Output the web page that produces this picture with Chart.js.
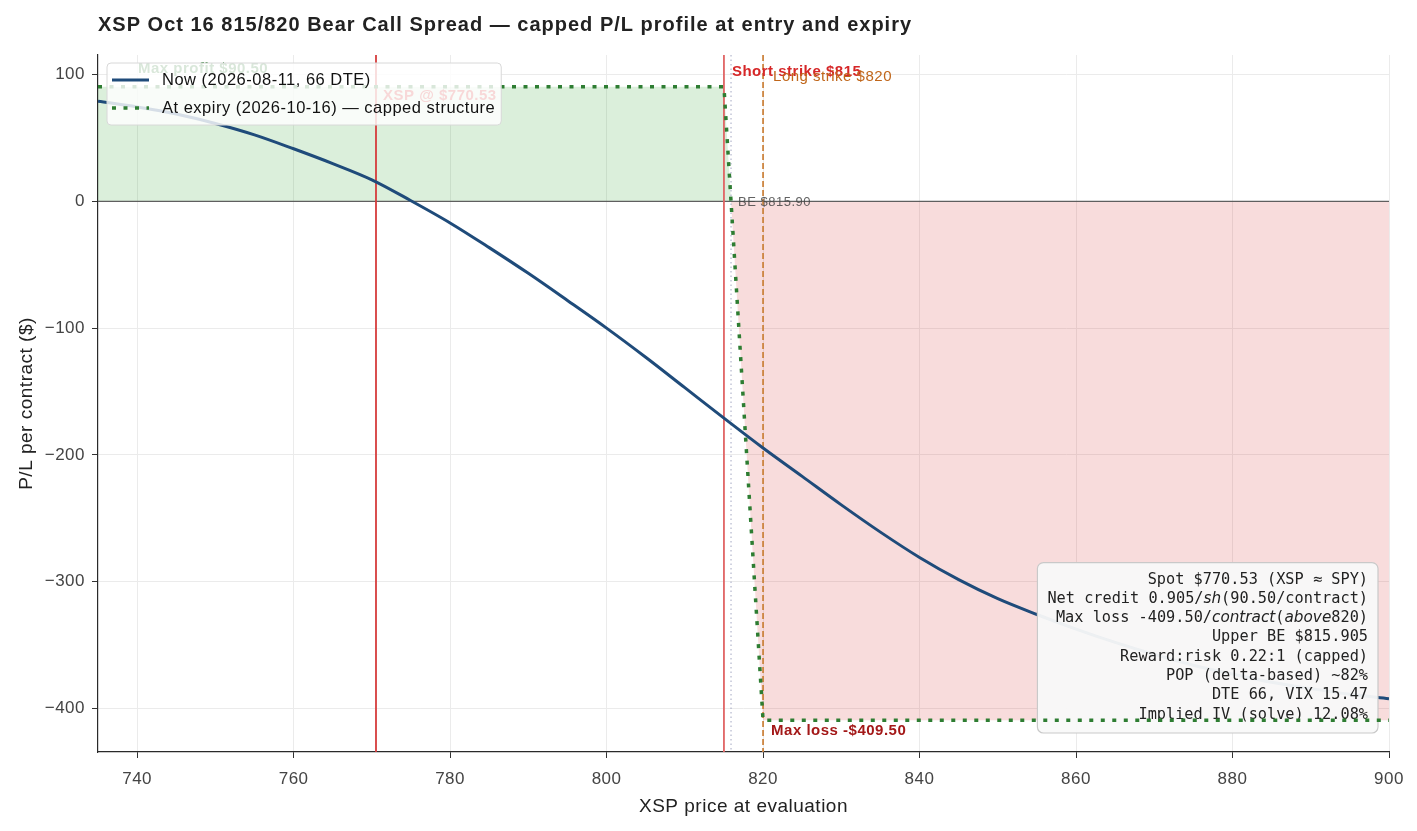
<!DOCTYPE html>
<html>
<head>
<meta charset="utf-8">
<script src="https://cdn.jsdelivr.net/npm/chart.js@4.4.1/dist/chart.umd.min.js"></script>
<style>
  html, body { margin: 0; padding: 0; background: #fff; }
</style>
</head>
<body>
<canvas id="pl" width="1417" height="831"></canvas>
<script>
// XSP price grid and P/L of the spread today
const prices = [735, 740, 745, 750, 755, 760, 765, 770, 775, 780, 785, 790, 795, 800, 805, 810, 815,
                820, 825, 830, 835, 840, 845, 850, 855, 860, 865, 870, 875, 880, 885, 890, 895, 900];
const nowPL = [79, 74.5, 69, 61.5, 52.5, 41.5, 29.8, 17, 0.5, -17, -36.5, -56.8, -78.2, -100, -123, -147, -171,
               -194.6, -217, -239.5, -261, -281, -298.5, -313.5, -326, -337.5, -348, -357.5, -366, -373, -379.5, -384.5, -389, -392.5];

// P/L at expiry (capped structure)
const expiryX = [735, 815, 815.905, 820, 900];
const expiryPL = [90.5, 90.5, 0, -409.5, -409.5];

const spot = 770.53, shortK = 815, longK = 820, breakEven = 815.905;
const maxProfit = 90.5, maxLoss = -409.5;

const xTicks = [740, 760, 780, 800, 820, 840, 860, 880, 900];
const yTicks = [-400, -300, -200, -100, 0, 100];

const infoLines = [
    [['Spot $770.53 (XSP \u2248 SPY)']],
    [['Net credit 0.905/'], ['sh', 1], ['(90.50/contract)']],
    [['Max loss -409.50/'], ['contract', 1], ['('], ['above', 1], ['820)']],
    [['Upper BE $815.905']],
    [['Reward:risk 0.22:1 (capped)']],
    [['POP (delta-based) ~82%']],
    [['DTE 66, VIX 15.47']],
    [['Implied IV (solve) 12.08%']]
];

const NAVY = '#1f4b7a';
const GREEN = '#2e7d32';
const SANS = '"Liberation Sans", Arial, Helvetica, sans-serif';
const SPACING = '0.5px';

Chart.defaults.font.family = SANS;

function rrect(ctx, x, y, w, h, r) {
    ctx.beginPath();
    ctx.moveTo(x + r, y);
    ctx.arcTo(x + w, y, x + w, y + h, r);
    ctx.arcTo(x + w, y + h, x, y + h, r);
    ctx.arcTo(x, y + h, x, y, r);
    ctx.arcTo(x, y, x + w, y, r);
    ctx.closePath();
}

function segFont(it) {
    return it ? 'italic 15.25px "DejaVu Sans"' : '15.25px "DejaVu Sans Mono"';
}

function drawInfoBox(chart) {
    const ctx = chart.ctx, a = chart.chartArea;
    ctx.save();
    ctx.letterSpacing = '0px';
    let maxW = 0;
    const widths = infoLines.map(line => {
        let w = 0;
        line.forEach(s => { ctx.font = segFont(s[1]); w += ctx.measureText(s[0]).width; });
        maxW = Math.max(maxW, w);
        return w;
    });
    const lh = 19.3;
    const right = a.right - 11, bottom = a.bottom - 19;
    const w = maxW + 20, h = infoLines.length * lh + 16;
    const left = right - w, top = bottom - h;
    rrect(ctx, left, top, w, h, 6);
    ctx.fillStyle = 'rgba(249,249,249,0.95)';
    ctx.fill();
    ctx.strokeStyle = '#c9c9c9';
    ctx.lineWidth = 1.2;
    ctx.stroke();
    ctx.fillStyle = '#222';
    ctx.textBaseline = 'middle';
    ctx.textAlign = 'left';
    infoLines.forEach((line, i) => {
        let x = right - 10 - widths[i];
        const y = top + 17 + i * lh;
        line.forEach(s => {
            ctx.font = segFont(s[1]);
            ctx.fillText(s[0], x, y);
            x += ctx.measureText(s[0]).width;
        });
    });
    ctx.restore();
}

const annotations = {
    id: 'annotations',
    beforeDraw(chart) {
        chart.ctx.letterSpacing = SPACING;
    },
    beforeDatasetsDraw(chart) {
        const ctx = chart.ctx, a = chart.chartArea;
        const xs = chart.scales.x, ys = chart.scales.y;
        ctx.save();
        ctx.beginPath();
        ctx.rect(a.left, a.top, a.right - a.left, a.bottom - a.top);
        ctx.clip();
        // zero line
        const y0 = ys.getPixelForValue(0);
        ctx.strokeStyle = '#5f5f5f';
        ctx.lineWidth = 1.4;
        ctx.beginPath(); ctx.moveTo(a.left, y0); ctx.lineTo(a.right, y0); ctx.stroke();
        const vline = (v, color, width, dash) => {
            const x = xs.getPixelForValue(v);
            ctx.strokeStyle = color;
            ctx.lineWidth = width;
            ctx.setLineDash(dash);
            ctx.beginPath(); ctx.moveTo(x, a.top); ctx.lineTo(x, a.bottom); ctx.stroke();
            ctx.setLineDash([]);
        };
        vline(spot, '#d63c3c', 1.8, []);
        vline(shortK, '#e06464', 1.8, []);
        vline(longK, '#cd8540', 1.8, [6, 3]);
        vline(breakEven, '#a3a6c2', 1, [1.5, 3]);
        ctx.restore();
    },
    afterDatasetDraw(chart, args) {
        if (args.index === 0) drawInfoBox(chart);
    },
    afterDatasetsDraw(chart) {
        const ctx = chart.ctx;
        const xs = chart.scales.x, ys = chart.scales.y, a = chart.chartArea;
        ctx.save();
        ctx.letterSpacing = SPACING;
        ctx.textBaseline = 'middle';
        ctx.textAlign = 'left';
        ctx.font = 'bold 15px ' + SANS;
        ctx.fillStyle = GREEN;
        ctx.fillText('Max profit $90.50', a.left + 40, ys.getPixelForValue(maxProfit) - 18);
        ctx.fillStyle = '#d62728';
        ctx.fillText('XSP @ $770.53', xs.getPixelForValue(spot) + 7, ys.getPixelForValue(maxProfit) + 9);
        ctx.font = 'bold 15px ' + SANS;
        ctx.fillStyle = '#d62728';
        ctx.fillText('Short strike $815', xs.getPixelForValue(shortK) + 8, a.top + 17);
        ctx.font = '15px ' + SANS;
        ctx.fillStyle = '#c0661a';
        ctx.fillText('Long strike $820', xs.getPixelForValue(longK) + 10, a.top + 22);
        ctx.font = '13px ' + SANS;
        ctx.fillStyle = 'rgba(70,70,70,0.85)';
        ctx.fillText('BE $815.90', xs.getPixelForValue(breakEven) + 7, ys.getPixelForValue(0) + 1);
        ctx.font = 'bold 15px ' + SANS;
        ctx.fillStyle = '#a31818';
        ctx.fillText('Max loss -$409.50', xs.getPixelForValue(longK) + 8, ys.getPixelForValue(maxLoss) + 11);
        ctx.restore();
    },
    afterDraw(chart) {
        const ctx = chart.ctx, a = chart.chartArea;
        ctx.save();
        // title
        ctx.letterSpacing = '1px';
        ctx.font = 'bold 20px ' + SANS;
        ctx.fillStyle = '#222';
        ctx.textBaseline = 'middle';
        ctx.textAlign = 'left';
        ctx.fillText('XSP Oct 16 815/820 Bear Call Spread \u2014 capped P/L profile at entry and expiry', a.left, 25);
        // legend
        ctx.letterSpacing = SPACING;
        const items = chart.data.datasets;
        ctx.font = '16.5px ' + SANS;
        const textW = Math.max(...items.map(d => ctx.measureText(d.label).width));
        const lx = a.left + 9, ly = a.top + 8;
        const lw = 55 + textW + 6, lh = 62;
        rrect(ctx, lx, ly, lw, lh, 4);
        ctx.fillStyle = 'rgba(255,255,255,0.82)';
        ctx.fill();
        ctx.strokeStyle = '#d8d8d8';
        ctx.lineWidth = 1;
        ctx.stroke();
        items.forEach((d, i) => {
            const y = ly + 17 + i * 28;
            ctx.strokeStyle = d.borderColor;
            ctx.lineWidth = d.borderWidth;
            ctx.setLineDash(d.borderDash || []);
            ctx.beginPath(); ctx.moveTo(lx + 5, y); ctx.lineTo(lx + 42, y); ctx.stroke();
            ctx.setLineDash([]);
            ctx.fillStyle = '#111';
            ctx.fillText(d.label, lx + 55, y);
        });
        ctx.restore();
    }
};

new Chart(document.getElementById('pl'), {
    type: 'line',
    data: {
        datasets: [{
            label: 'Now (2026-08-11, 66 DTE)',
            data: prices.map((p, i) => ({ x: p, y: nowPL[i] })),
            borderColor: NAVY,
            borderWidth: 3,
            pointRadius: 0,
            cubicInterpolationMode: 'monotone',
            fill: false,
            order: 2
        }, {
            label: 'At expiry (2026-10-16) \u2014 capped structure',
            data: expiryX.map((p, i) => ({ x: p, y: expiryPL[i] })),
            borderColor: GREEN,
            borderWidth: 3.5,
            borderDash: [4, 7.5],
            pointRadius: 0,
            tension: 0,
            fill: { target: 'origin', above: 'rgba(44,160,44,0.17)', below: 'rgba(214,39,40,0.16)' },
            order: 1
        }]
    },
    options: {
        responsive: false,
        animation: false,
        layout: { padding: { top: 55, right: 28, left: 0, bottom: 0 } },
        plugins: {
            legend: { display: false },
            tooltip: { enabled: false },
            filler: { drawTime: 'beforeDatasetsDraw' }
        },
        scales: {
            x: {
                type: 'linear',
                min: 735,
                max: 900,
                afterBuildTicks: s => { s.ticks = xTicks.map(v => ({ value: v })); },
                afterFit: s => { s.height = 79; },
                grid: { color: '#ebebeb', tickColor: '#333', tickLength: 6 },
                border: { color: '#2a2a2a', width: 1.2 },
                ticks: { color: '#444', font: { size: 17 }, padding: 11, maxRotation: 0 },
                title: { display: true, text: 'XSP price at evaluation', color: '#222', font: { size: 19 }, padding: { top: 0, bottom: 13 } }
            },
            y: {
                min: -434.5,
                max: 115.5,
                afterBuildTicks: s => { s.ticks = yTicks.map(v => ({ value: v })); },
                afterFit: s => { s.width = 98; },
                grid: { color: '#ebebeb', tickColor: '#333', tickLength: 6 },
                border: { color: '#2a2a2a', width: 1.2 },
                ticks: { color: '#444', font: { size: 17 }, padding: 7,
                         callback: v => v < 0 ? '\u2212' + Math.abs(v) : String(v) },
                title: { display: true, text: 'P/L per contract ($)', color: '#222', font: { size: 19 }, padding: { top: 15, bottom: 0 } }
            }
        }
    },
    plugins: [annotations]
});
</script>
</body>
</html>
